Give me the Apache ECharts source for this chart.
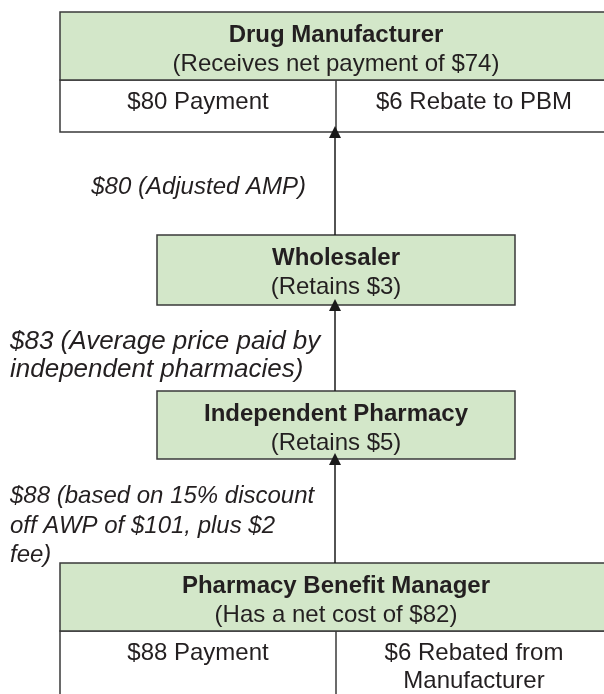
<!DOCTYPE html>
<html>
<head>
<meta charset="utf-8">
<script src="https://cdn.jsdelivr.net/npm/echarts@6/dist/echarts.min.js"></script>
<style>
html, body { margin: 0; padding: 0; background: #fff; }
#chart { width: 604px; height: 694px; }
</style>
</head>
<body>
<div id="chart"></div>
<script>
// parties in the chain, top to bottom
var parties = ['Drug Manufacturer', 'Wholesaler', 'Independent Pharmacy', 'Pharmacy Benefit Manager'];
var partyNotes = ['(Receives net payment of $74)', '(Retains $3)', '(Retains $5)', '(Has a net cost of $82)'];
// split rows under the manufacturer and the PBM
var paymentCells = ['$80 Payment', '$88 Payment'];
var rebateCells = ['$6 Rebate to PBM', '$6 Rebated from\nManufacturer'];
// money moving up the chain (one per arrow)
var flowLabels = [
    '$80 (Adjusted AMP)',
    '$83 (Average price paid by\nindependent pharmacies)',
    '$88 (based on 15% discount\noff AWP of $101, plus $2\nfee)'
]

// layout, page pixels: [left, top, right, header bottom, bottom]
var boxes = [
    [60, 12, 612, 80, 132],
    [157, 235, 515, 305, 305],
    [157, 391, 515, 459, 459],
    [60, 563, 612, 631, 720]
]
var splitX = 336
var arrowX = 335
// [x, y center, align, line height, font size]
var flowPos = [[306, 187, 'right', 28, 24], [10, 356, 'left', 28, 26], [10, 526, 'left', 29.5, 24]]
// which boxes own the split cells
var splitOwner = { 0: 0, 3: 1 }

var ink = '#231f20'
var green = '#d3e7c9'
var edge = '#3a3a3a'
var font = "'Liberation Sans', Arial, Helvetica, sans-serif"

var dom = document.getElementById('chart')
var chart = echarts.init(dom, null, { renderer: 'canvas' })

var arrows = []
for (var i = 0; i < boxes.length - 1; i++) {
    arrows.push({ coords: [[arrowX, boxes[i + 1][1]], [arrowX, boxes[i][4]]] })
}

function renderBox(params, api) {
    var i = params.dataIndex
    var b = boxes[i]
    var tl = api.coord([b[0], b[1]])
    var hb = api.coord([b[2], b[3]])
    var br = api.coord([b[2], b[4]])
    var children = []
    var cx = (tl[0] + hb[0]) / 2
    if (splitOwner[i] !== undefined) {
        var k = splitOwner[i]
        var sx = api.coord([splitX, 0])[0]
        children.push({
            type: 'rect',
            shape: { x: tl[0], y: hb[1], width: br[0] - tl[0], height: br[1] - hb[1] },
            style: { fill: '#fff', stroke: edge, lineWidth: 1.5 }
        })
        children.push({
            type: 'line',
            shape: { x1: sx, y1: hb[1], x2: sx, y2: br[1] },
            style: { stroke: edge, lineWidth: 1.5 }
        })
        children.push({
            type: 'text',
            style: { text: paymentCells[k], x: (tl[0] + sx) / 2, y: hb[1] + 8, align: 'center', verticalAlign: 'top',
                fill: ink, font: '24px ' + font, lineHeight: 28 }
        })
        children.push({
            type: 'text',
            style: { text: rebateCells[k], x: (sx + br[0]) / 2, y: hb[1] + 8, align: 'center', verticalAlign: 'top',
                fill: ink, font: '24px ' + font, lineHeight: 28 }
        })
    }
    children.push({
        type: 'rect',
        shape: { x: tl[0], y: tl[1], width: hb[0] - tl[0], height: hb[1] - tl[1] },
        style: { fill: green, stroke: edge, lineWidth: 1.5 }
    })
    children.push({
        type: 'text',
        style: { text: parties[i], x: cx, y: tl[1] + 23, align: 'center', verticalAlign: 'middle',
            fill: ink, font: 'bold 24px ' + font }
    })
    children.push({
        type: 'text',
        style: { text: partyNotes[i], x: cx, y: tl[1] + 52, align: 'center', verticalAlign: 'middle',
            fill: ink, font: '24px ' + font }
    })
    return { type: 'group', children: children }
}

function renderFlow(params, api) {
    var p = flowPos[params.dataIndex]
    var pt = api.coord([p[0], p[1]])
    return {
        type: 'text',
        style: { text: flowLabels[params.dataIndex], x: pt[0], y: pt[1], align: p[2], verticalAlign: 'middle',
            fill: ink, font: 'italic ' + p[4] + 'px ' + font, lineHeight: p[3] }
    }
}

var option = {
    animation: false,
    grid: { left: 0, right: 0, top: 0, bottom: 0 },
    xAxis: { type: 'value', min: 0, max: 604, show: false },
    yAxis: { type: 'value', min: 0, max: 694, inverse: true, show: false },
    series: [
        {
            type: 'custom',
            clip: false,
            renderItem: renderBox,
            data: parties.map(function (p, i) { return [i] })
        },
        {
            type: 'lines',
            coordinateSystem: 'cartesian2d',
            symbol: ['none', 'triangle'],
            symbolSize: [10, 12],
            lineStyle: { color: '#1a1a1a', width: 1.5, opacity: 1 },
            itemStyle: { color: '#1a1a1a' },
            data: arrows
        },
        {
            type: 'custom',
            clip: false,
            renderItem: renderFlow,
            data: flowLabels.map(function (f, i) { return [i] })
        }
    ]
}
chart.setOption(option, true)
</script>
</body>
</html>
